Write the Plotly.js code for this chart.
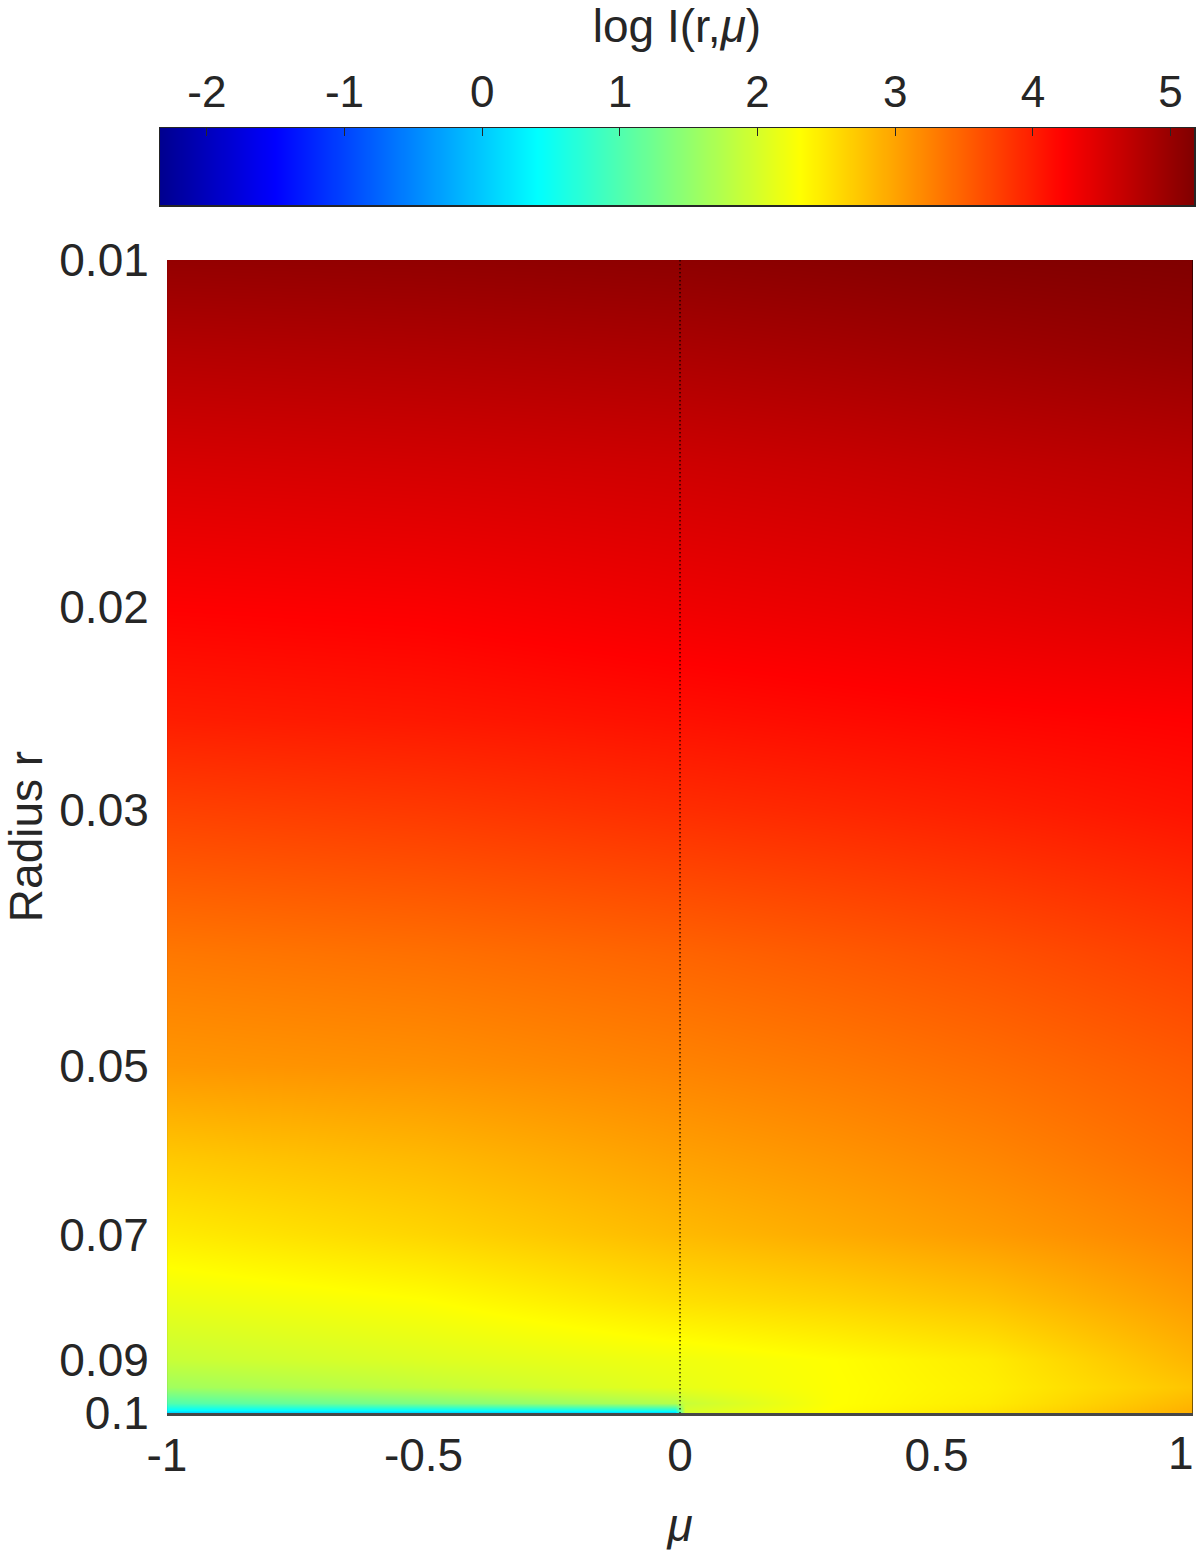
<!DOCTYPE html>
<html>
<head>
<meta charset="utf-8">
<script src="https://cdn.plot.ly/plotly-3.0.1.min.js"></script>
<style>html,body{margin:0;padding:0;background:#fff;}#chart{width:1200px;height:1551px;}</style>
</head>
<body>
<div id="chart"></div>
<script>
// Angle cosine mu (x) and radius r (y)
const mu = [-1, -0.5, -0.01, 0.01, 0.3, 0.6, 1];
const radius = [0.01, 0.012, 0.015, 0.02, 0.025, 0.03, 0.04, 0.05, 0.06, 0.07, 0.08, 0.09, 0.095, 0.098, 0.0995, 0.1];
// log I(r, mu), one row per radius, one column per mu
const logI = [
  [5.02, 5.04, 5.07, 5.07, 5.10, 5.14, 5.17],
  [4.78, 4.81, 4.85, 4.85, 4.89, 4.94, 5.01],
  [4.52, 4.55, 4.59, 4.59, 4.63, 4.68, 4.74],
  [4.22, 4.25, 4.33, 4.33, 4.37, 4.42, 4.49],
  [4.00, 4.04, 4.10, 4.10, 4.14, 4.18, 4.22],
  [3.73, 3.79, 3.88, 3.88, 3.93, 3.99, 4.08],
  [3.32, 3.38, 3.47, 3.47, 3.54, 3.62, 3.75],
  [3.09, 3.14, 3.24, 3.24, 3.31, 3.40, 3.54],
  [2.72, 2.84, 3.02, 3.02, 3.11, 3.22, 3.40],
  [2.45, 2.62, 2.83, 2.83, 2.94, 3.06, 3.24],
  [2.16, 2.30, 2.54, 2.54, 2.63, 2.76, 3.05],
  [1.89, 2.05, 2.20, 2.20, 2.31, 2.45, 2.86],
  [1.60, 1.85, 2.12, 2.14, 2.30, 2.42, 2.75],
  [1.00, 1.35, 1.75, 1.90, 2.30, 2.45, 2.85],
  [0.40, 0.45, 0.60, 2.00, 2.32, 2.50, 2.90],
  [0.00, 0.00, 0.00, 2.00, 2.32, 2.50, 2.90]
];
const xTickVals = [-1, -0.5, 0, 0.5, 1];
const xTickText = ['-1', '-0.5', '0', '0.5', ''];   // last label drawn right-aligned below
const xLastTick = {val: 1, text: '1'};
const yTickVals = [0.01, 0.02, 0.03, 0.05, 0.07, 0.09, 0.1];
const yTickText = ['0.01', '0.02', '0.03', '0.05', '0.07', '0.09', '0.1'];
const cbRange = [-2.34, 5.17];
const cbTickVals = [-2, -1, 0, 1, 2, 3, 4, 5];
const cbTickText = ['-2', '-1', '0', '1', '2', '3', '4', '5'];
const dividerMu = [0, 0];
const dividerR = [0.01, 0.1];

const jet = [
  [0, 'rgb(0,0,143)'],
  [0.111, 'rgb(0,0,255)'],
  [0.365, 'rgb(0,255,255)'],
  [0.619, 'rgb(255,255,0)'],
  [0.873, 'rgb(255,0,0)'],
  [1, 'rgb(128,0,0)']
];

const FONT = 'Liberation Sans, Arial, Helvetica, sans-serif';
const TXT = '#262626';
const FS = 46;
const FSCB = 44;

const traces = [
  {
    type: 'heatmap', x: mu, y: radius, z: logI,
    colorscale: jet, zmin: cbRange[0], zmax: cbRange[1],
    zsmooth: 'best', showscale: false, hoverinfo: 'skip',
    xaxis: 'x', yaxis: 'y'
  },
  {
    type: 'scatter', mode: 'lines', x: dividerMu, y: dividerR,
    line: {color: 'rgba(0,0,0,0.9)', width: 1.3, dash: '1.5px,2.5px'},
    hoverinfo: 'skip', xaxis: 'x', yaxis: 'y'
  },
  {
    type: 'heatmap', x: cbRange, z: [cbRange],
    colorscale: jet, zmin: cbRange[0], zmax: cbRange[1],
    zsmooth: 'best', showscale: false, hoverinfo: 'skip',
    xaxis: 'x2', yaxis: 'y2'
  }
];

const layout = {
  width: 1200, height: 1551,
  margin: {l: 0, r: 0, t: 0, b: 0},
  paper_bgcolor: '#fff', plot_bgcolor: '#fff',
  showlegend: false,
  font: {family: FONT, size: FS, color: TXT},
  xaxis: {
    domain: [167/1200, 1193/1200], anchor: 'y',
    range: [-1, 1], tickvals: xTickVals, ticktext: xTickText,
    ticks: 'outside', ticklen: 0, tickcolor: 'rgba(0,0,0,0)',
    showgrid: false, zeroline: false,
    showline: true, linecolor: 'rgba(0,0,0,0.72)', linewidth: 3,
    tickfont: {family: FONT, size: FS, color: TXT},
    title: {text: '<i>μ</i>', font: {family: FONT, size: FS, color: TXT}, standoff: 32}
  },
  yaxis: {
    domain: [1 - 1413/1551, 1 - 260/1551], anchor: 'x',
    type: 'log', range: [-1, -2],
    tickvals: yTickVals, ticktext: yTickText,
    ticks: 'outside', ticklen: 8, tickcolor: 'rgba(0,0,0,0)',
    ticklabeloverflow: 'allow',
    showgrid: false, zeroline: false, showline: false,
    tickfont: {family: FONT, size: FS, color: TXT},
    title: {text: 'Radius r', font: {family: FONT, size: FS, color: TXT}, standoff: 20}
  },
  xaxis2: {
    domain: [160/1200, 1194/1200], anchor: 'y2', side: 'top',
    range: cbRange, tickvals: cbTickVals, ticktext: cbTickText,
    ticks: 'inside', ticklen: 8, tickcolor: TXT, tickwidth: 1,
    ticklabelstandoff: 2, ticklabeloverflow: 'allow',
    showgrid: false, zeroline: false,
    showline: true, mirror: true, linecolor: TXT, linewidth: 1.5,
    tickfont: {family: FONT, size: FSCB, color: TXT},
    title: {text: 'log I(r,<i>μ</i>)', font: {family: FONT, size: FS, color: TXT}, standoff: 25}
  },
  yaxis2: {
    domain: [1 - 205/1551, 1 - 128/1551], anchor: 'x2',
    range: [-0.5, 0.5], showticklabels: false, ticks: '',
    showgrid: false, zeroline: false,
    showline: true, mirror: true, linecolor: TXT, linewidth: 1.5
  },
  annotations: [
    {xref: 'x', yref: 'y domain', x: xLastTick.val, y: 0, text: xLastTick.text,
     xanchor: 'right', yanchor: 'top', xshift: 3, yshift: -12, showarrow: false,
     font: {family: FONT, size: FS, color: TXT}}
  ],
  shapes: [
    {type: 'line', xref: 'x', yref: 'y domain', x0: 1, x1: 1, y0: 0, y1: 1,
     line: {color: 'rgba(0,0,0,0.7)', width: 1.5}},
    {type: 'line', xref: 'x', yref: 'y domain', x0: -1, x1: -1, y0: 0, y1: 1,
     line: {color: 'rgba(0,0,0,0.12)', width: 1}}
  ]
};

Plotly.newPlot('chart', traces, layout, {staticPlot: true, displayModeBar: false});
</script>
</body>
</html>
